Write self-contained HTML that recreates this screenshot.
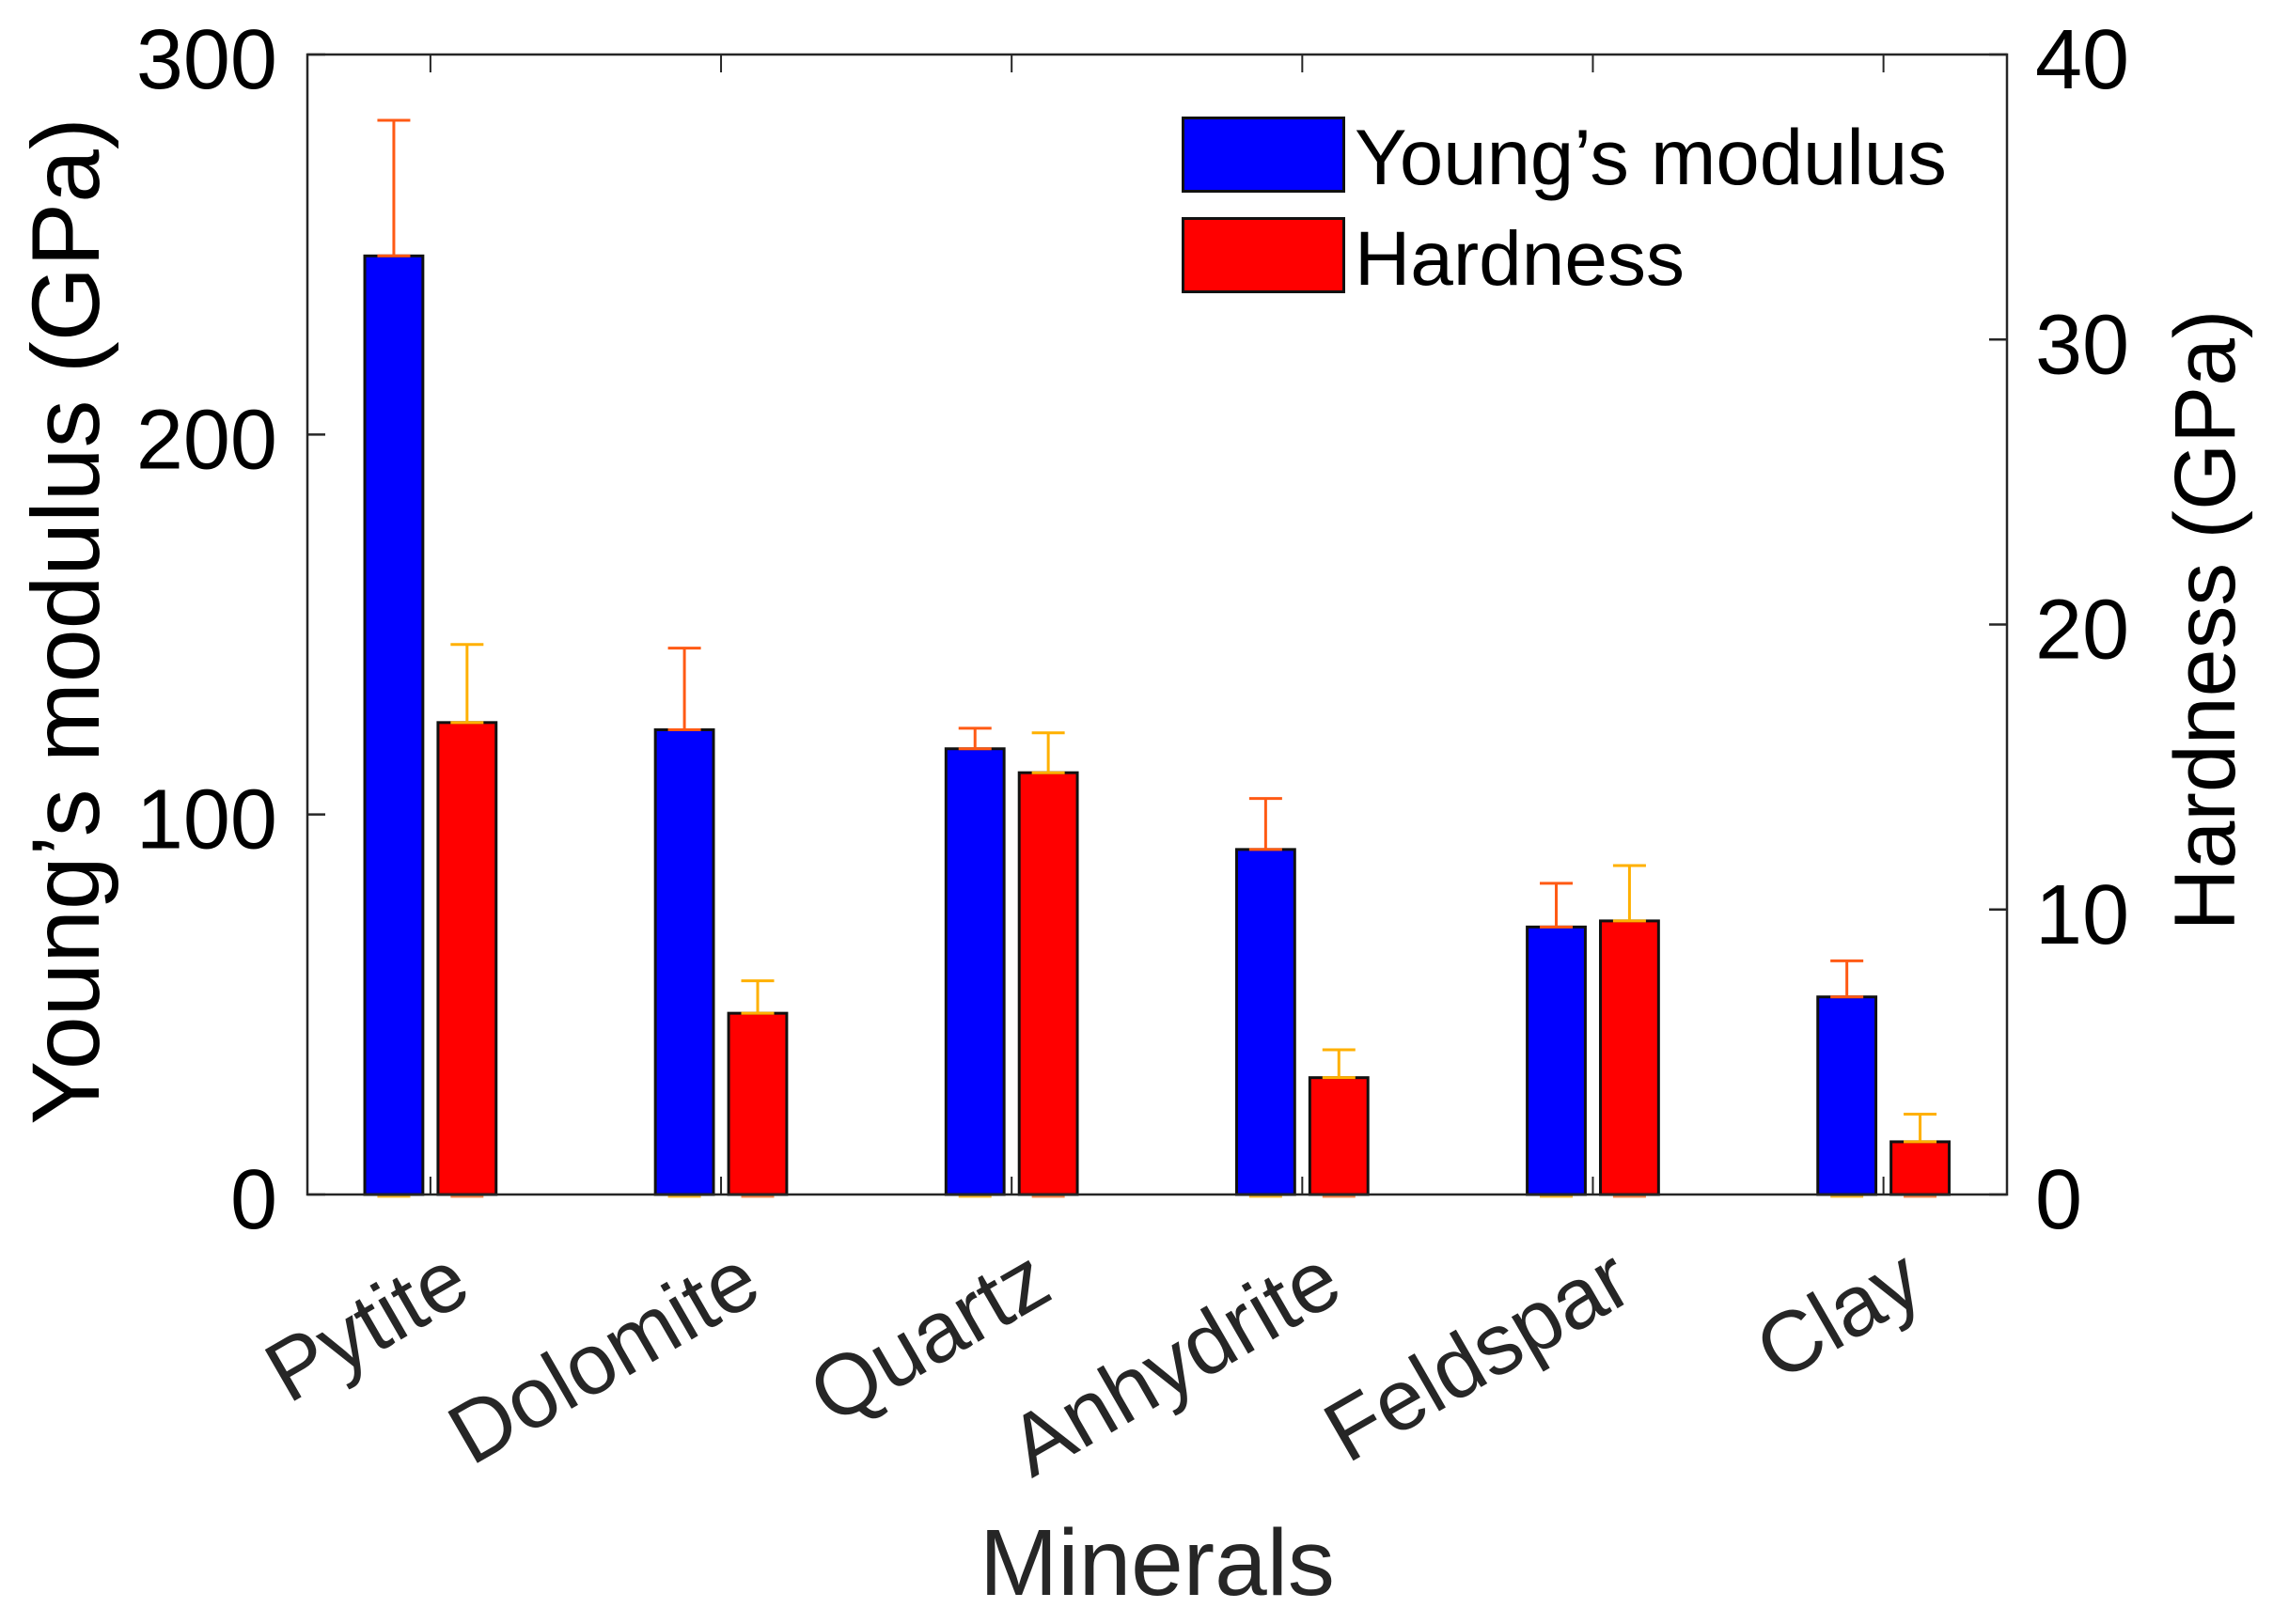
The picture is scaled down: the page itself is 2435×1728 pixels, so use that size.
<!DOCTYPE html>
<html>
<head>
<meta charset="utf-8">
<title>Young's modulus and hardness of minerals</title>
<style>
html,body{margin:0;padding:0;background:#fff;width:2435px;height:1728px;overflow:hidden}
svg{display:block}
text{font-family:"Liberation Sans",Arial,sans-serif}
</style>
</head>
<body>
<svg id="chart" xmlns="http://www.w3.org/2000/svg" width="2435" height="1728" viewBox="0 0 2435 1728">
  <g id="marks"></g>
  <g id="axes"></g>
  <g id="tick-labels"></g>
  <text transform="translate(105 661) rotate(-90)" text-anchor="middle" font-size="102" fill="#000">Young’s modulus (GPa)</text>
  <text transform="translate(2377 660) rotate(-90)" text-anchor="middle" font-size="91.5" fill="#000">Hardness (GPa)</text>
  <text x="1231" y="1697" text-anchor="middle" font-size="100" fill="#262626">Minerals</text>
  <g>
    <rect x="1258.5" y="125.5" width="171" height="78" fill="#0000ff" stroke="#111" stroke-width="3"/>
    <text x="1441" y="196" font-size="83.3" fill="#000">Young’s modulus</text>
    <rect x="1258.5" y="232.5" width="171" height="78" fill="#ff0000" stroke="#111" stroke-width="3"/>
    <text x="1441" y="303" font-size="82" fill="#000">Hardness</text>
  </g>
</svg>
<script>
const categories = ["Pytite", "Dolomite", "Quartz", "Anhydrite", "Feldspar", "Clay"];
const modulusValues = [247, 122.3, 117.3, 90.8, 70.4, 52];
const modulusErrors = [35.7, 21.5, 5.4, 13.4, 11.5, 9.5];
const hardnessValues = [16.56, 6.36, 14.8, 4.1, 9.6, 1.85];
const hardnessErrors = [2.74, 1.14, 1.4, 0.98, 1.94, 0.97];
const leftTicks = [0, 100, 200, 300];
const rightTicks = [0, 10, 20, 30, 40];

const NS = "http://www.w3.org/2000/svg";
const plot = { left: 327, right: 2135, top: 58, bottom: 1271 };
const xMin = 0.5766, xMax = 6.425;
function xScale(v) { return plot.left + (v - xMin) / (xMax - xMin) * (plot.right - plot.left); }
function yLeft(v) { return plot.bottom - v / 300 * (plot.bottom - plot.top); }
function yRight(v) { return plot.bottom - v / 40 * (plot.bottom - plot.top); }
const barOffset = 0.126, barWidth = 0.2;

function make(tag, attrs, parent) {
  const el = document.createElementNS(NS, tag);
  for (const k in attrs) el.setAttribute(k, attrs[k]);
  parent.appendChild(el);
  return el;
}
const marks = document.getElementById("marks");
const axes = document.getElementById("axes");
const labels = document.getElementById("tick-labels");

function drawSeries(values, errors, yFn, offset, fill, errColor, baseCapColor) {
  values.forEach(function (v, i) {
    const cx = xScale(i + 1 + offset);
    const w = barWidth * (plot.right - plot.left) / (xMax - xMin);
    const capHalf = 17.5;
    const baseCap = make("line", { x1: cx - capHalf, x2: cx + capHalf, y1: yFn(0) + 2.5, y2: yFn(0) + 2.5, stroke: baseCapColor, "stroke-width": 2, opacity: 0.8 }, marks);
    
    
    const bar = make("rect", { x: cx - w / 2, y: yFn(v), width: w, height: yFn(0) - yFn(v), fill: fill, stroke: "#111", "stroke-width": 3 }, marks);
    
    
    const stem = make("line", { x1: cx, x2: cx, y1: yFn(v), y2: yFn(v + errors[i]), stroke: errColor, "stroke-width": 3 }, marks);
    
    
    const capTop = make("line", { x1: cx - capHalf, x2: cx + capHalf, y1: yFn(v + errors[i]), y2: yFn(v + errors[i]), stroke: errColor, "stroke-width": 3 }, marks);
    
    
    const capLow = make("line", { x1: cx - capHalf, x2: cx + capHalf, y1: yFn(v), y2: yFn(v), stroke: errColor, "stroke-width": 3 }, marks);
    
    
  });
}
drawSeries(modulusValues, modulusErrors, yLeft, -barOffset, "#0000ff", "#ff5a14", "#ffb000");
drawSeries(hardnessValues, hardnessErrors, yRight, barOffset, "#ff0000", "#ffb000", "#ff6a20");

const frame = make("rect", { x: plot.left, y: plot.top, width: plot.right - plot.left, height: plot.bottom - plot.top, fill: "none", stroke: "#262626", "stroke-width": 2.5 }, axes);



const tickLen = 19;
categories.forEach(function (name, i) {
  const x = xScale(i + 1);
  const tb = make("line", { x1: x, x2: x, y1: plot.bottom, y2: plot.bottom - tickLen, stroke: "#262626", "stroke-width": 2 }, axes);
  
  
  const tt = make("line", { x1: x, x2: x, y1: plot.top, y2: plot.top + tickLen, stroke: "#262626", "stroke-width": 2 }, axes);
  
  
  const lab = make("text", { transform: "translate(" + (x + 47) + " " + (plot.bottom + 109) + ") rotate(-30)", "text-anchor": "end", "font-size": 91.5, fill: "#262626" }, labels);
  
  
  lab.textContent = name;
});
leftTicks.forEach(function (v) {
  const y = yLeft(v);
  const t = make("line", { x1: plot.left, x2: plot.left + tickLen, y1: y, y2: y, stroke: "#262626", "stroke-width": 2.5 }, axes);
  
  
  const lab = make("text", { x: 295, y: y + 36, "text-anchor": "end", "font-size": 90, fill: "#000" }, labels);
  
  
  lab.textContent = v;
});
rightTicks.forEach(function (v) {
  const y = yRight(v);
  const t = make("line", { x1: plot.right, x2: plot.right - tickLen, y1: y, y2: y, stroke: "#262626", "stroke-width": 2.5 }, axes);
  
  
  const lab = make("text", { x: 2165, y: y + 36, "text-anchor": "start", "font-size": 90, fill: "#000" }, labels);
  
  
  lab.textContent = v;
});
</script>
</body>
</html>
